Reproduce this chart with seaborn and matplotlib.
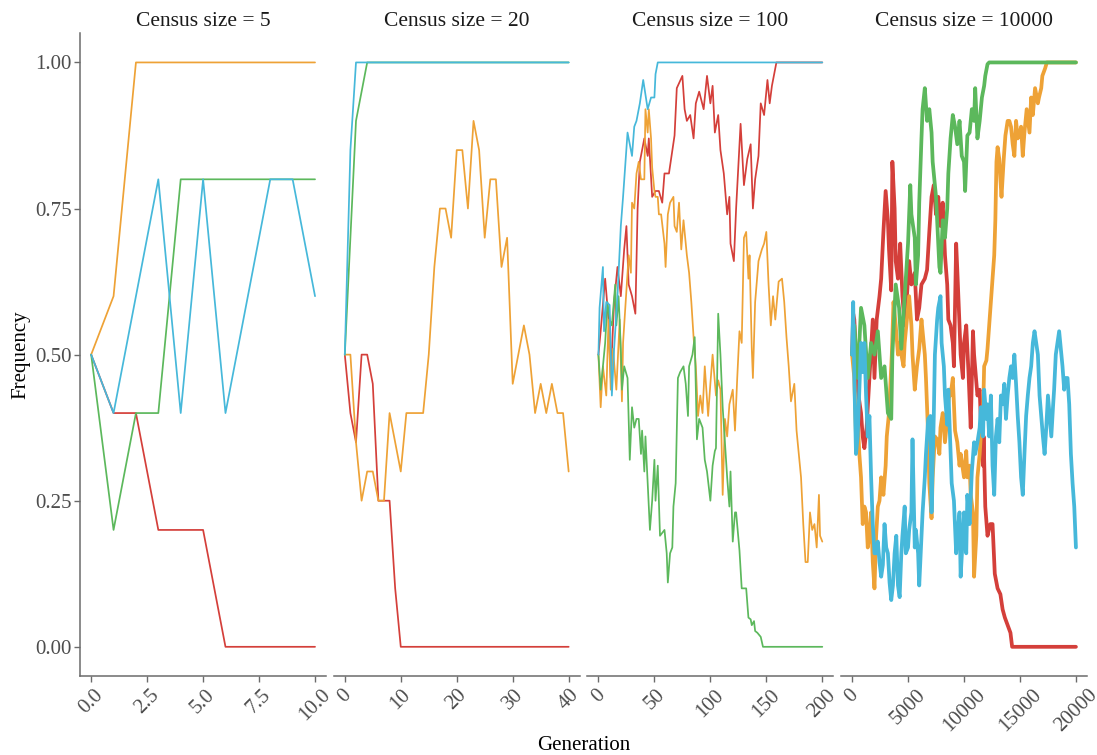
import matplotlib
matplotlib.use("Agg")
import matplotlib.pyplot as plt
import pandas as pd
import seaborn as sns

sns.set_theme(style="white")
plt.rcParams["font.family"] = ["Liberation Serif", "DejaVu Serif"]

# ---------------- data ----------------
census_sizes = [5, 20, 100, 10000]
allele_order = ["A1", "A2", "A3", "A4"]
palette = {"A1": "#D43F3A", "A2": "#EEA236", "A3": "#5CB85C", "A4": "#46B8DA"}

# Census size = 5
red5 = [(0, .5), (1, .4), (2, .4), (3, .2), (4, .2), (5, .2), (6, 0), (10, 0)]
orange5 = [(0, .5), (1, .6), (2, 1.0), (10, 1.0)]
green5 = [(0, .5), (1, .2), (2, .4), (3, .4), (4, .8), (10, .8)]
blue5 = [(0, .5), (1, .4), (2, .6), (3, .8), (4, .4), (5, .8), (6, .4), (7, .6),
         (8, .8), (9, .8), (10, .6)]

# Census size = 20
red20 = [(0, .5), (1, .4), (2, .35), (3, .5), (4, .5), (5, .45), (6, .25), (7, .25),
         (8, .25), (9, .1), (10, 0), (40, 0)]
orange20 = [(0, .5), (1, .5), (2, .35), (3, .25), (4, .3), (5, .3), (6, .25), (7, .25),
            (8, .4), (9, .35), (10, .3), (11, .4), (12, .4), (13, .4), (14, .4),
            (15, .5), (16, .65), (17, .75), (18, .75), (19, .7), (20, .85), (21, .85),
            (22, .75), (23, .9), (24, .85), (25, .7), (26, .8), (27, .8), (28, .65),
            (29, .7), (30, .45), (31, .5), (32, .55), (33, .5), (34, .4), (35, .45),
            (36, .4), (37, .45), (38, .4), (39, .4), (40, .3)]
green20 = [(0, .5), (1, .7), (2, .9), (3, .95), (4, 1.0), (40, 1.0)]
blue20 = [(0, .5), (1, .85), (2, 1.0), (40, 1.0)]

# Census size = 100
red100 = [(0, .5), (2, .54), (6, .63), (9, .56), (11, .46), (14, .59), (17, .65),
          (20, .6), (23, .68), (25, .72), (27, .62), (30, .6), (33, .57), (35, .75),
          (37, .83), (41, .87), (44, .84), (45, .87), (48, .77), (51, .78), (54, .78),
          (57, .76), (59, .81), (63, .81), (68, .875), (70, .956), (75, .977), (77, .92),
          (79, .9), (82, .91), (85, .87), (87, .93), (90, .95), (94, .92), (97, .977),
          (100, .93), (102, .96), (104, .88), (107, .91), (109, .85), (112, .81),
          (115, .74), (117, .77), (118, .69), (121, .66), (123, .75), (127, .895),
          (130, .79), (133, .835), (136, .86), (138, .75), (140, .8), (143, .84),
          (145, .93), (148, .91), (151, .97), (153, .93), (155, .96), (159, 1.0), (200, 1.0)]
orange100 = [(0, .5), (2, .41), (4, .48), (7, .43), (9, .56), (11, .44), (13, .51),
             (16, .44), (19, .56), (21, .42), (22, .52), (24, .58), (27, .67), (29, .64),
             (30, .76), (32, .75), (34, .81), (36, .83), (38, .8), (41, .8), (42, .92),
             (44, .88), (45, .92), (47, .87), (48, .82), (50, .78), (51, .77), (53, .77),
             (54, .74), (56, .74), (59, .69), (60, .65), (62, .74), (64, .76), (67, .77),
             (68, .72), (70, .71), (72, .76), (74, .68), (76, .73), (79, .67), (81, .64),
             (83, .59), (85, .53), (87, .48), (89, .395), (91, .43), (93, .4), (95, .48),
             (98, .395), (100, .45), (102, .5), (105, .43), (107, .456), (109, .44),
             (111, .26), (113, .39), (115, .36), (117, .415), (120, .44), (122, .37),
             (124, .46), (126, .54), (128, .52), (130, .7), (132, .71), (134, .63),
             (135, .67), (137, .51), (138, .46), (140, .59), (143, .66), (146, .68),
             (148, .69), (150, .71), (152, .62), (154, .55), (156, .6), (158, .56),
             (161, .625), (164, .63), (166, .59), (168, .53), (170, .48), (172, .42),
             (175, .45), (177, .37), (179, .33), (181, .29), (183, .21), (185, .145),
             (187, .145), (189, .23), (191, .2), (193, .21), (195, .17), (197, .26),
             (198, .19), (200, .18)]
green100 = [(0, .5), (2, .44), (4, .48), (6, .52), (8, .59), (10, .56), (12, .55),
            (15, .62), (16, .55), (18, .6), (20, .51), (21, .44), (23, .48), (26, .46),
            (28, .32), (30, .41), (32, .375), (34, .39), (36, .39), (38, .33), (39, .37),
            (41, .3), (42, .36), (44, .28), (46, .2), (48, .25), (50, .32), (51, .25),
            (53, .31), (55, .19), (59, .2), (61, .16), (62, .11), (64, .16), (66, .17),
            (67, .24), (69, .28), (71, .46), (73, .47), (76, .48), (78, .45), (80, .395),
            (81, .48), (84, .5), (86, .53), (88, .355), (90, .39), (93, .375), (95, .32),
            (97, .3), (100, .25), (102, .31), (104, .335), (105, .34), (107, .57),
            (109, .5), (111, .41), (113, .35), (115, .29), (117, .24), (118, .3),
            (120, .18), (122, .23), (123, .23), (126, .165), (128, .1), (130, .1),
            (132, .1), (134, .05), (136, .047), (137, .037), (139, .044), (140, .027),
            (142, .024), (145, .017), (147, 0), (200, 0)]
blue100 = [(0, .5), (1, .58), (4, .65), (5, .54), (7, .59), (10, .585), (12, .43),
           (14, .51), (17, .6), (20, .72), (22, .77), (26, .88), (30, .84), (32, .89),
           (34, .9), (37, .93), (40, .97), (44, .92), (47, .94), (50, .94), (51, .98),
           (53, 1.0), (200, 1.0)]

# Census size = 10000
red10k = [(0, .5), (100, .57), (200, .56), (500, .44), (800, .4), (950, .36), (1100, .34),
          (1300, .375), (1550, .46), (1850, .56), (2000, .46), (2200, .56), (2450, .6),
          (2600, .63), (2800, .71), (3000, .78), (3200, .73), (3300, .68), (3500, .61),
          (3600, .83), (3800, .75), (3900, .66), (4100, .63), (4300, .69), (4500, .6),
          (4700, .55), (4900, .6), (5100, .66), (5300, .62), (5600, .64), (5800, .56),
          (6000, .58), (6200, .62), (6500, .63), (6700, .645), (6900, .71), (7100, .77),
          (7300, .79), (7500, .74), (7700, .77), (7900, .72), (8100, .76), (8300, .67),
          (8500, .62), (8600, .56), (8800, .55), (9000, .52), (9100, .48), (9300, .69),
          (9400, .645), (9600, .55), (9700, .5), (9900, .46), (10000, .52), (10200, .55),
          (10400, .47), (10600, .375), (10800, .54), (10900, .5), (11200, .43),
          (11400, .44), (11500, .39), (11700, .31), (11750, .36), (11900, .24),
          (12100, .19), (12350, .21), (12550, .21), (12750, .125), (13000, .1),
          (13250, .09), (13450, .064), (13650, .05), (13900, .037), (14150, .024),
          (14300, 0), (20000, 0)]
orange10k = [(0, .5), (200, .46), (350, .36), (500, .39), (650, .33), (800, .29),
             (950, .21), (1100, .24), (1250, .23), (1400, .17), (1550, .19), (1700, .23),
             (1850, .145), (2000, .1), (2150, .19), (2300, .24), (2450, .25), (2600, .29),
             (2800, .26), (3000, .31), (3100, .36), (3300, .4), (3400, .44), (3550, .5),
             (3700, .59), (3900, .55), (4100, .5), (4200, .52), (4400, .5), (4600, .48),
             (4700, .52), (4900, .56), (5100, .6), (5300, .55), (5400, .5), (5600, .44),
             (5800, .48), (6000, .51), (6200, .56), (6300, .54), (6500, .5), (6600, .46),
             (6800, .36), (6900, .28), (7100, .22), (7200, .29), (7400, .36), (7600, .355),
             (7800, .33), (7900, .375), (8100, .4), (8300, .35), (8500, .39), (8700, .44),
             (8800, .43), (9000, .46), (9200, .37), (9400, .35), (9600, .31), (9700, .33),
             (10000, .29), (10200, .335), (10300, .29), (10500, .31), (10600, .26),
             (10800, .23), (10900, .12), (11100, .19), (11200, .29), (11400, .33),
             (11500, .36), (11700, .4), (11800, .48), (12000, .49), (12100, .51),
             (12250, .55), (12400, .59), (12550, .63), (12700, .67), (12800, .73),
             (12900, .83), (13000, .855), (13150, .835), (13250, .8), (13350, .77),
             (13550, .835), (13700, .875), (13900, .9), (14050, .9), (14200, .89),
             (14350, .86), (14500, .84), (14650, .9), (14800, .87), (14950, .875),
             (15100, .89), (15250, .84), (15400, .88), (15600, .92), (15850, .88),
             (16000, .94), (16150, .91), (16350, .956), (16600, .93), (16700, .94),
             (16900, .956), (17000, .977), (17250, .99), (17400, 1.0), (20000, 1.0)]
green10k = [(0, .5), (200, .55), (500, .46), (800, .58), (1100, .55), (1400, .46),
            (1700, .52), (2000, .5), (2300, .54), (2600, .46), (2900, .48), (3200, .4),
            (3500, .39), (3600, .5), (3900, .62), (4200, .58), (4400, .51), (4700, .6),
            (5000, .69), (5200, .79), (5300, .74), (5600, .7), (5700, .62), (5900, .67),
            (6000, .76), (6200, .87), (6300, .92), (6500, .956), (6700, .9), (6900, .92),
            (7100, .88), (7200, .83), (7500, .77), (7600, .73), (7800, .65), (7900, .64),
            (8100, .73), (8300, .7), (8500, .75), (8600, .81), (8800, .87), (9000, .91),
            (9200, .89), (9400, .86), (9600, .9), (9800, .84), (10000, .83), (10100, .78),
            (10300, .875), (10500, .88), (10700, .92), (10900, .9), (11000, .956),
            (11200, .87), (11400, .9), (11600, .94), (11800, .96), (11900, .977),
            (12100, .997), (12250, 1.0), (20000, 1.0)]
blue10k = [(0, .5), (100, .59), (200, .46), (350, .33), (500, .36), (650, .44), (800, .52),
           (950, .47), (1100, .52), (1250, .43), (1400, .36), (1550, .395), (1700, .29),
           (1850, .21), (2000, .16), (2150, .16), (2300, .18), (2450, .145), (2600, .12),
           (2750, .14), (2900, .21), (3050, .17), (3200, .16), (3350, .11), (3500, .08),
           (3650, .105), (3800, .16), (3950, .19), (4100, .105), (4250, .085), (4400, .16),
           (4500, .19), (4700, .24), (4800, .16), (5000, .17), (5100, .2), (5300, .23),
           (5400, .355), (5600, .17), (5700, .2), (5900, .16), (6000, .105), (6200, .19),
           (6300, .23), (6500, .29), (6600, .33), (6800, .39), (7000, .395), (7100, .23),
           (7300, .395), (7400, .5), (7600, .56), (7700, .58), (7900, .6), (8000, .52),
           (8200, .48), (8300, .43), (8500, .38), (8600, .44), (8800, .33), (8900, .28),
           (9100, .25), (9300, .16), (9400, .19), (9600, .23), (9700, .12), (9900, .19),
           (10000, .23), (10200, .16), (10300, .26), (10500, .21), (10700, .3),
           (10900, .35), (11000, .33), (11200, .35), (11400, .375), (11500, .41),
           (11700, .36), (11800, .44), (12000, .39), (12100, .415), (12250, .36),
           (12400, .43), (12550, .31), (12700, .26), (12850, .36), (13000, .39),
           (13150, .35), (13300, .43), (13450, .415), (13600, .45), (13750, .39),
           (13900, .43), (14050, .46), (14200, .48), (14350, .46), (14500, .5),
           (14650, .45), (14800, .395), (14950, .35), (15100, .29), (15250, .26),
           (15400, .33), (15550, .395), (15700, .43), (15850, .46), (16000, .48),
           (16150, .52), (16300, .54), (16450, .52), (16600, .5), (16750, .43),
           (16900, .395), (17050, .36), (17200, .33), (17350, .375), (17500, .43),
           (17650, .395), (17800, .36), (17950, .41), (18050, .44), (18200, .5),
           (18350, .52), (18500, .54), (18650, .51), (18800, .48), (18950, .44),
           (19100, .46), (19250, .46), (19400, .415), (19550, .33), (19700, .28),
           (19850, .24), (20000, .17)]

series = {
    5: [red5, orange5, green5, blue5],
    20: [red20, orange20, green20, blue20],
    100: [red100, orange100, green100, blue100],
    10000: [red10k, orange10k, green10k, blue10k],
}

x_ticks = {
    5: ([0, 2.5, 5, 7.5, 10], ["0.0", "2.5", "5.0", "7.5", "10.0"]),
    20: ([0, 10, 20, 30, 40], ["0", "10", "20", "30", "40"]),
    100: ([0, 50, 100, 150, 200], ["0", "50", "100", "150", "200"]),
    10000: ([0, 5000, 10000, 15000, 20000], ["0", "5000", "10000", "15000", "20000"]),
}
y_ticks = [0.0, 0.25, 0.5, 0.75, 1.0]
y_labels = ["0.00", "0.25", "0.50", "0.75", "1.00"]

rows = []
for n, lst in series.items():
    for allele, pts in zip(allele_order, lst):
        for g, f in pts:
            rows.append({"census": n, "allele": allele, "generation": g, "frequency": f})
df = pd.DataFrame(rows)

# ---------------- figure ----------------
fig = plt.figure(figsize=(10.97, 7.55), dpi=100)
axes = fig.subplots(1, 4, sharey=True)
fig.subplots_adjust(left=0.0729, right=0.991, top=0.956, bottom=0.1046, wspace=0.03)

spine_col = "#6b6b6b"
for i, (ax, n) in enumerate(zip(axes, census_sizes)):
    sub = df[df["census"] == n]
    lw = 2.7 if n == 10000 else 1.25
    sns.lineplot(data=sub, x="generation", y="frequency", hue="allele",
                 hue_order=allele_order, palette=palette, estimator=None,
                 sort=False, legend=False, linewidth=lw, ax=ax)
    xmax = x_ticks[n][0][-1]
    ax.set_xlim(-0.05 * xmax, 1.05 * xmax)
    ax.set_ylim(-0.05, 1.05)
    ax.set_xticks(x_ticks[n][0])
    ax.set_xticklabels(x_ticks[n][1], rotation=45, ha="center")
    ax.set_xlabel("")
    ax.set_ylabel("")
    ax.set_title(f"Census size = {n}", fontsize=15.5, pad=5, color="#1a1a1a")
    for s in ["top", "right"]:
        ax.spines[s].set_visible(False)
    ax.spines["bottom"].set_color(spine_col)
    ax.spines["bottom"].set_linewidth(1.1)
    ax.tick_params(axis="x", length=4, width=1, color=spine_col, labelsize=15,
                   labelcolor="#4D4D4D", pad=3, bottom=True)
    if i == 0:
        ax.spines["left"].set_color(spine_col)
        ax.spines["left"].set_linewidth(1.1)
        ax.set_yticks(y_ticks)
        ax.set_yticklabels(y_labels)
        ax.tick_params(axis="y", length=4, width=1, color=spine_col, labelsize=15,
                       labelcolor="#4D4D4D", pad=2, left=True)
    else:
        ax.spines["left"].set_visible(False)
        ax.tick_params(axis="y", left=False, labelleft=False)
    ax.grid(False)

fig.text(0.532, 0.0, "Generation", ha="center", va="bottom", fontsize=15, color="black")
fig.text(0.019, 0.53, "Frequency", ha="center", va="center", rotation=90,
         fontsize=15, color="black")

fig.savefig("out.png", dpi=100)
